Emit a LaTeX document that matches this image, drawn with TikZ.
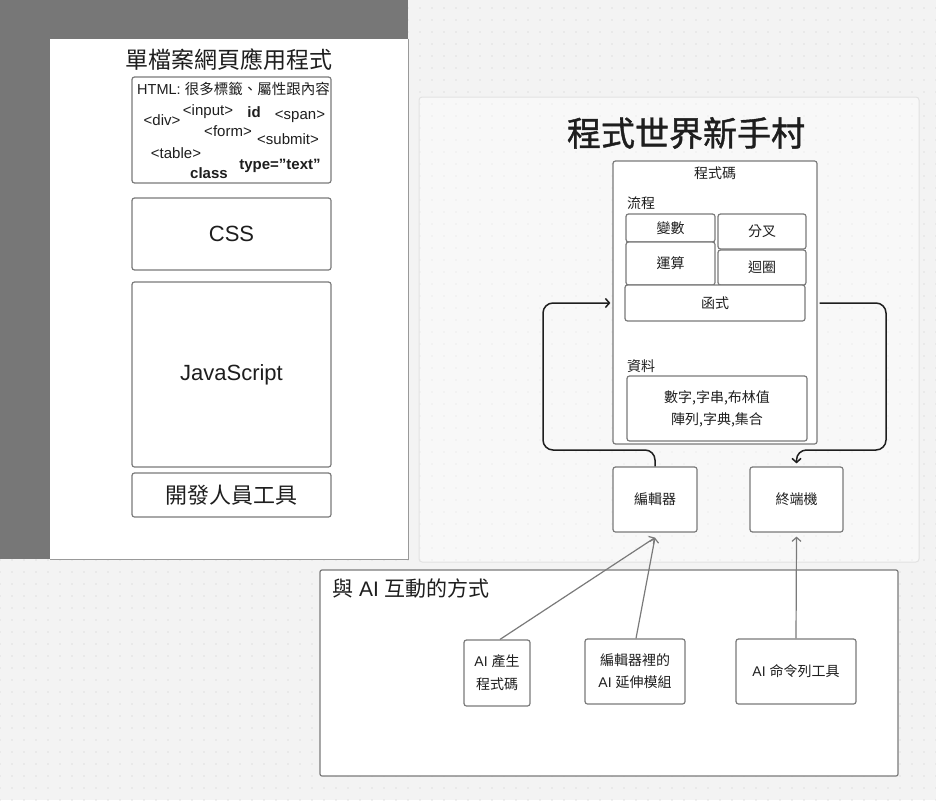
\documentclass[tikz,border=0pt]{standalone}
\usepackage{fontspec}
\setmainfont{Liberation Sans}
\newfontfamily\cjk{Noto Sans CJK TC}
\newfontfamily\cjkmid[FakeBold=1.2]{Noto Sans CJK TC}
\usetikzlibrary{arrows.meta,patterns.meta}
\definecolor{bg}{HTML}{F3F3F3}
\definecolor{dotc}{HTML}{C8C8C8}
\definecolor{darkside}{HTML}{777777}
\definecolor{edge}{HTML}{7A7A7A}
\definecolor{ink}{HTML}{1E1E1E}
\definecolor{faint}{HTML}{E2E2E2}
\newcommand\ZH[1]{{\cjk #1}}
\newcommand\fsz[2]{\fontsize{#1pt}{#2pt}\selectfont}
\begin{document}
\begin{tikzpicture}[x=1pt,y=-1pt,
  box/.style={draw=edge, line width=1.2pt, rounded corners=2.5pt, fill=white, inner sep=0pt, text=ink},
  lbl/.style={text=ink, inner sep=0pt},
  loopar/.style={draw=ink, line width=1.5pt, rounded corners=10pt, -{Straight Barb[length=4pt,width=9pt]}},
  aiar/.style={draw=edge, line width=1.2pt, -{Straight Barb[length=4pt,width=9pt]}}]
\useasboundingbox (0,0) rectangle (936,800);
% background
\fill[bg] (0,0) rectangle (936,800);
\fill[pattern={Dots[distance=12pt,radius=0.6pt]}, pattern color=dotc] (0,0) rectangle (936,800);
\fill[darkside] (0,0) rectangle (408,559);
% left panel
\node[fill=white, draw=none, inner sep=0pt, minimum width=358pt, minimum height=520pt] (leftpanel) at (229,299) {};
\draw[draw=black!40, line width=1pt] (leftpanel.north east) -- (leftpanel.south east) -- (leftpanel.south west);
\node[lbl, font=\cjk\fsz{23}{26}] (lefttitle) at (229,60) {單檔案網頁應用程式};
\node[box, minimum width=199pt, minimum height=106pt] (html) at (231.5,130) {};
\node[lbl, font=\fsz{14.5}{16}] (htmlhead) at (233.5,89) {HTML: \ZH{很多標籤、屬性跟內容}};
\node[lbl, font=\fsz{15}{16}] (tdiv) at (162,120) {<div>};
\node[lbl, font=\fsz{15}{16}] (tinput) at (208,112) {<input>};
\node[lbl, font=\bfseries\fsz{15}{16}] (tid) at (254,112) {id};
\node[lbl, font=\fsz{15}{16}] (tspan) at (300,117) {<span>};
\node[lbl, font=\fsz{15}{16}] (tform) at (228,131) {<form>};
\node[lbl, font=\fsz{15}{16}] (tsubmit) at (288,139) {<submit>};
\node[lbl, font=\fsz{15}{16}] (ttable) at (176,153) {<table>};
\node[lbl, font=\bfseries\fsz{15}{16}] (tclass) at (209,173) {class};
\node[lbl, font=\bfseries\fsz{15}{16}] (ttype) at (280,166) {type=”text”};
\node[box, minimum width=199pt, minimum height=72pt, font=\fsz{22}{24}] (css) at (231.5,234) {CSS};
\node[box, minimum width=199pt, minimum height=185pt, font=\fsz{22}{24}] (js) at (231.5,374.5) {JavaScript};
\node[box, minimum width=199pt, minimum height=44pt, font=\cjk\fsz{22}{24}] (dev) at (231.5,495) {開發人員工具};
% right panel
\node[draw=faint, line width=1pt, fill=white, fill opacity=0.45, rounded corners=3pt, inner sep=0pt, minimum width=500pt, minimum height=465pt] (rightpanel) at (669,329.5) {};
\node[lbl, font=\cjkmid\fsz{34}{38}] (righttitle) at (686,133) {程式世界新手村};
\node[box, minimum width=204pt, minimum height=283pt] (code) at (715,302.5) {};
\node[lbl, font=\cjk\fsz{14}{16}] (codelbl) at (715,173) {程式碼};
\node[lbl, font=\cjk\fsz{14}{16}, anchor=west] (flowlbl) at (627,203) {流程};
\node[box, minimum width=89pt, minimum height=28pt, font=\cjk\fsz{14}{16}] (var) at (670.5,228) {變數};
\node[box, minimum width=88pt, minimum height=35pt, font=\cjk\fsz{14}{16}] (fork) at (762,231.5) {分叉};
\node[box, minimum width=89pt, minimum height=43pt, font=\cjk\fsz{14}{16}] (calc) at (670.5,263.5) {運算};
\node[box, minimum width=88pt, minimum height=35pt, font=\cjk\fsz{14}{16}] (loopbox) at (762,267.5) {迴圈};
\node[box, minimum width=180pt, minimum height=36pt, font=\cjk\fsz{14}{16}] (fn) at (715,303) {函式};
\node[lbl, font=\cjk\fsz{14}{16}, anchor=west] (datalbl) at (627,366) {資料};
\node[box, minimum width=180pt, minimum height=65pt, font=\cjk\fsz{14}{22}, align=center] (data) at (717,408.5) {數字,字串,布林值\\陣列,字典,集合};
\node[box, minimum width=84pt, minimum height=65pt, font=\cjk\fsz{14}{16}] (editor) at (655,499.5) {編輯器};
\node[box, minimum width=93pt, minimum height=65pt, font=\cjk\fsz{14}{16}] (term) at (796.5,499.5) {終端機};
\coordinate (edin) at ([yshift=-5pt]editor.south);
\coordinate (terin) at ([yshift=-4pt]term.south);
% loops
\draw[loopar] (editor.north) |- (543,450) |- ([xshift=-2pt]code.west |- fn.center);
\draw[loopar, shorten >=3pt] ([xshift=2pt]code.east |- fn.center) -| (886,450) -| (term.north);
% bottom panel
\node[draw=edge, line width=1.2pt, fill=white, rounded corners=2pt, inner sep=0pt, minimum width=578pt, minimum height=206pt] (aipanel) at (609,673) {};
\node[lbl, font=\fsz{21}{24}, anchor=west] (aititle) at (332,589) {\ZH{與} AI \ZH{互動的方式}};
\node[box, minimum width=66pt, minimum height=66pt, font=\fsz{14}{23}, align=center] (ai1) at (497,673) {AI \ZH{產生}\\\ZH{程式碼}};
\node[box, minimum width=100pt, minimum height=65pt, font=\fsz{14}{22}, align=center] (ai2) at (635,671.5) {\ZH{編輯器裡的}\\AI \ZH{延伸模組}};
\node[box, minimum width=120pt, minimum height=65pt, font=\fsz{14}{16}] (ai3) at (796,671.5) {AI \ZH{命令列工具}};
\draw[aiar] ([xshift=3pt]ai1.north) -- (edin);
\draw[aiar] ([xshift=1pt]ai2.north) -- (edin);
\draw[aiar] (ai3.north) -- (terin);
\end{tikzpicture}
\end{document}
